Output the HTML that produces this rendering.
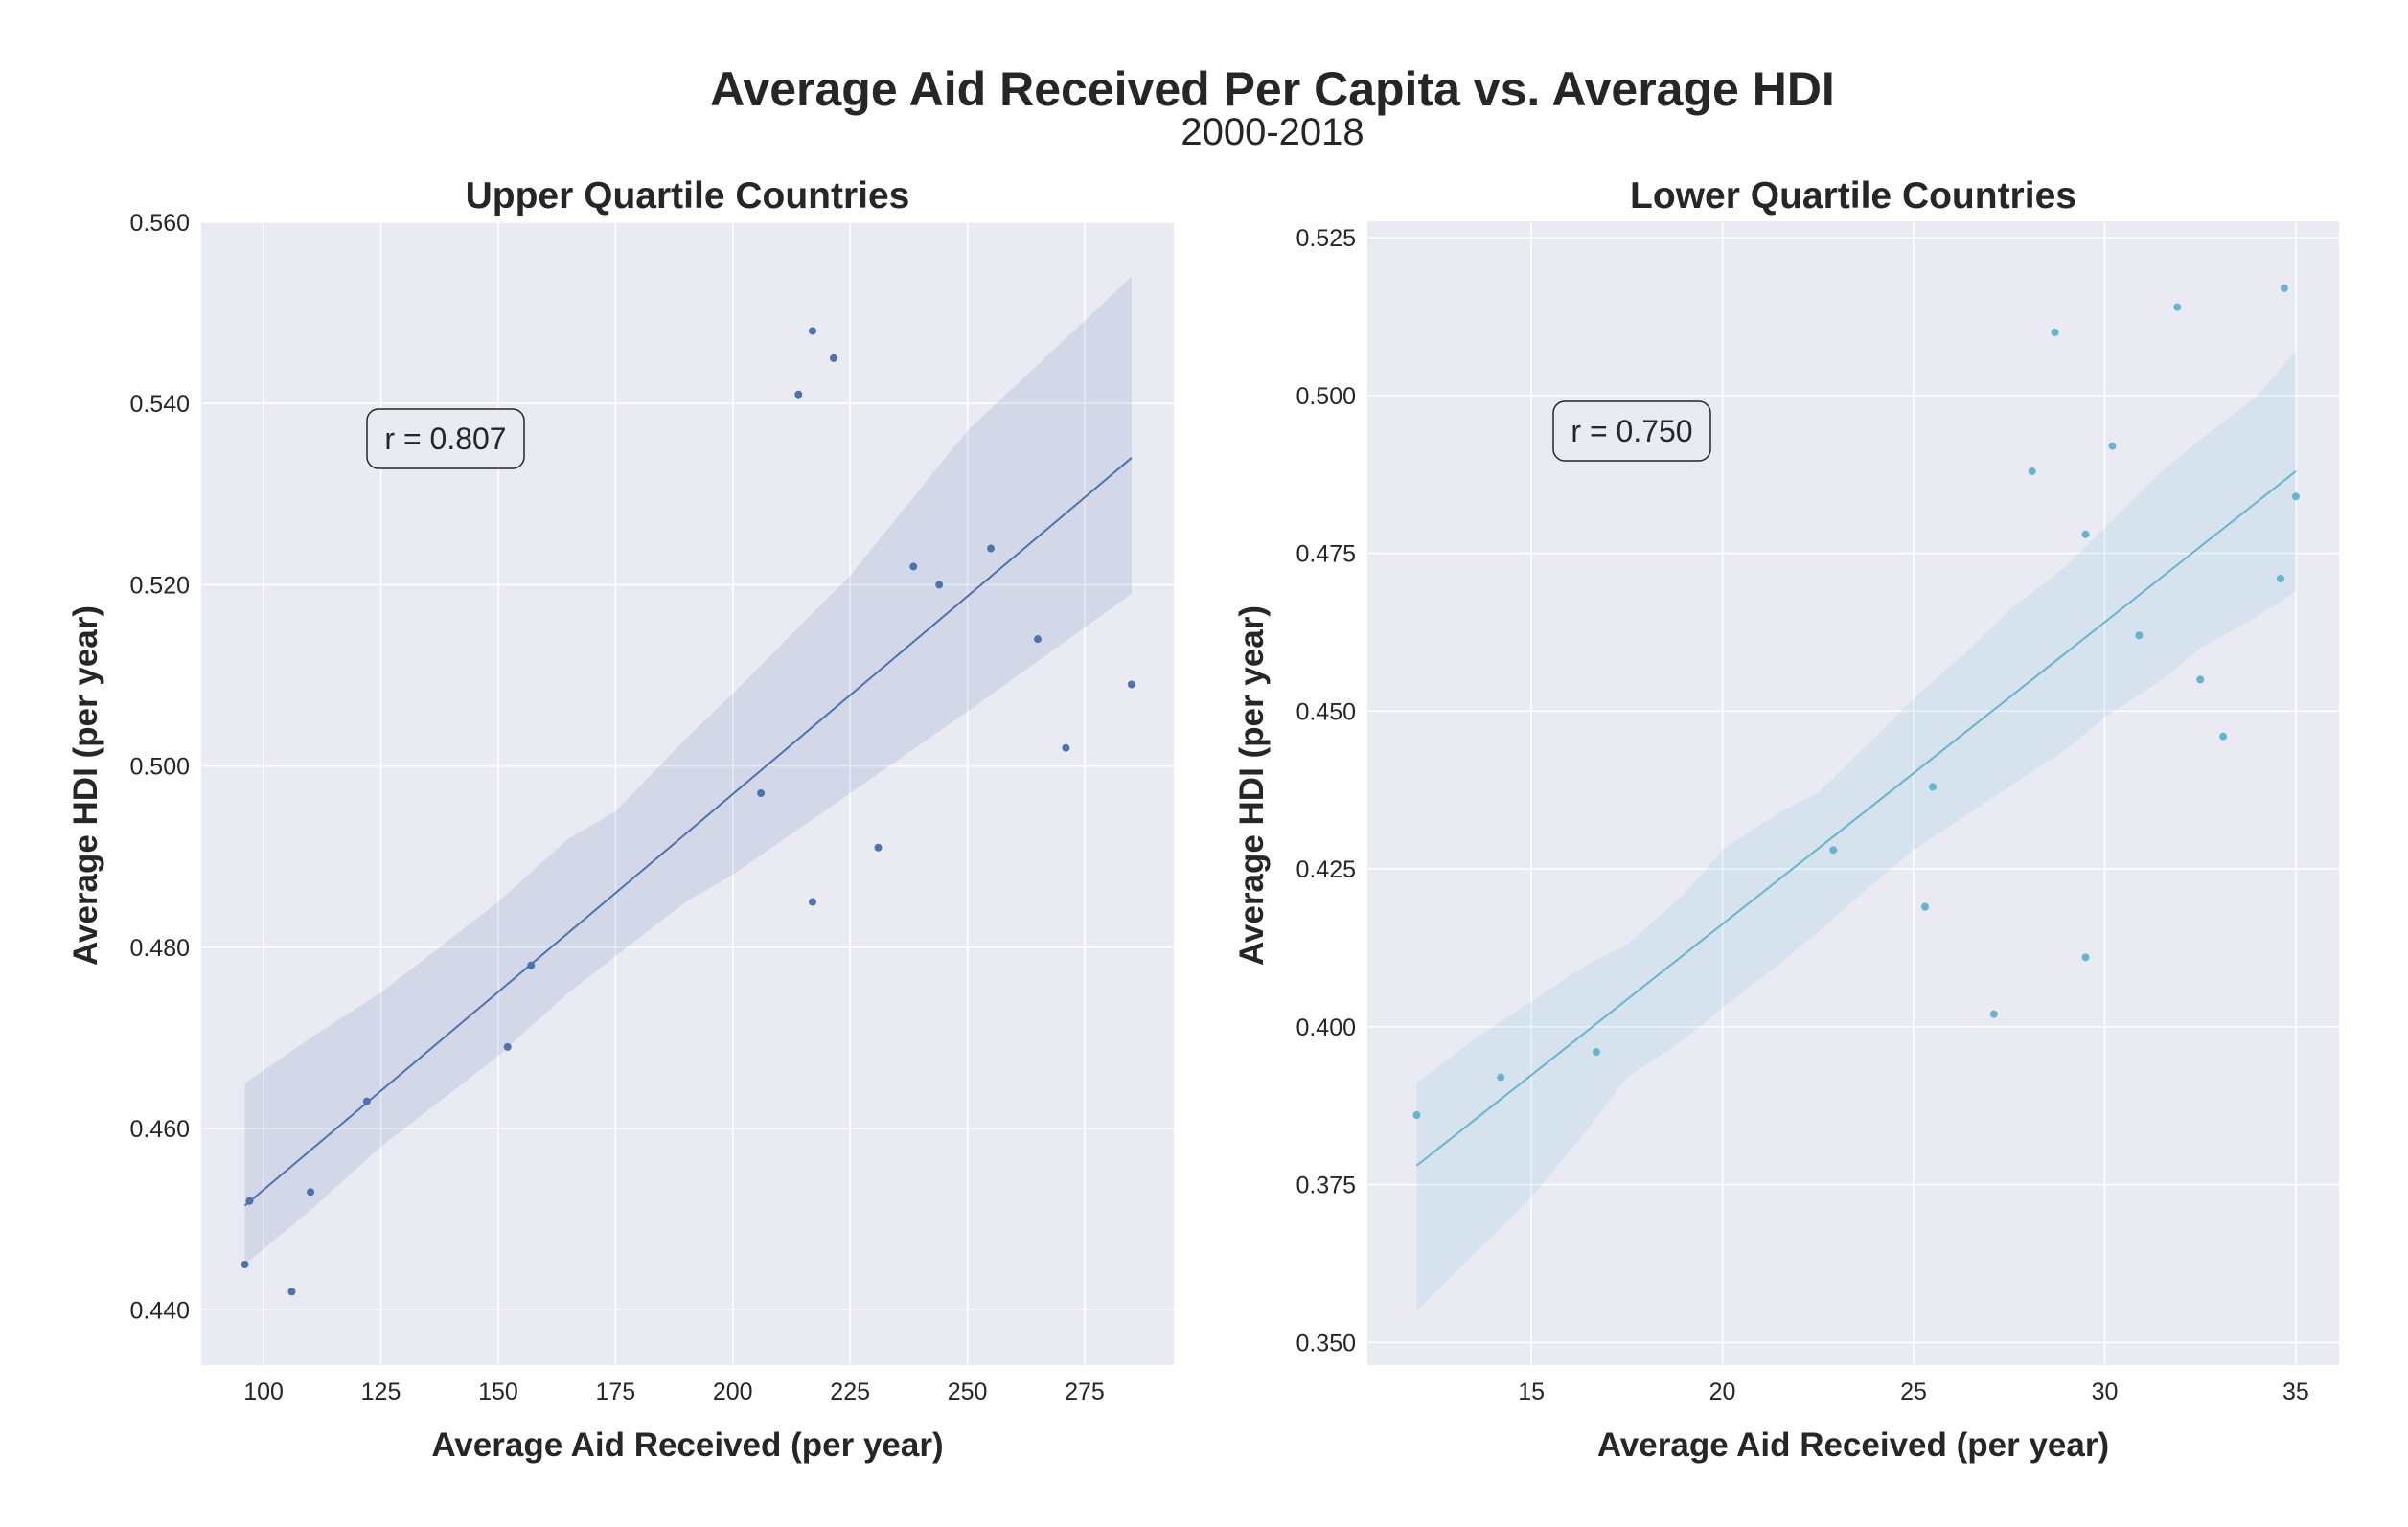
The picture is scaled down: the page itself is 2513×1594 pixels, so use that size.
<!DOCTYPE html>
<html><head><meta charset="utf-8"><style>
body{margin:0;background:#fff;}
svg{display:block;font-family:"Liberation Sans",Arial,sans-serif;}
</style></head><body>
<svg id="fig" width="2513" height="1594" viewBox="0 0 2513 1594">
<text x="1328" y="110" text-anchor="middle" font-size="50" font-weight="bold" fill="#262626">Average Aid Received Per Capita vs. Average HDI</text>
<text x="1328" y="151" text-anchor="middle" font-size="40" fill="#262626">2000-2018</text>
</svg>
<script>
// Upper quartile data
const upperX=[96,97,106,110,122,152,157,206,214,217,217,221.5,231,238.5,244,255,265,271,285];
const upperY=[0.445,0.452,0.442,0.453,0.463,0.469,0.478,0.497,0.541,0.548,0.485,0.545,0.491,0.522,0.520,0.524,0.514,0.502,0.509];
const upperLineX=[96,285];
const upperLineY=[0.4515,0.534];
const upperBandX=[96,110,125,150,165,175,190,200,225,250,285];
const upperBandHi=[0.465,0.470,0.475,0.485,0.492,0.495,0.503,0.508,0.521,0.537,0.554];
const upperBandLo=[0.445,0.451,0.458,0.468,0.475,0.479,0.485,0.488,0.497,0.506,0.519];
const upperXTicks=[100,125,150,175,200,225,250,275];
const upperYTicks=[0.44,0.46,0.48,0.50,0.52,0.54,0.56];
// Lower quartile data
const lowerX=[12,14.2,16.7,22.9,25.3,25.5,27.1,28.1,28.7,29.5,29.5,30.2,30.9,31.9,32.5,33.1,34.6,34.7,35];
const lowerY=[0.386,0.392,0.396,0.428,0.419,0.438,0.402,0.488,0.510,0.478,0.411,0.492,0.462,0.514,0.455,0.446,0.471,0.517,0.484];
const lowerLineX=[12,35];
const lowerLineY=[0.378,0.488];
const lowerBandX=[12,13.5,15,16.5,17.5,19,20,21.5,22.5,24,25,26.5,27.5,29,30,31.5,32.5,34,35];
const lowerBandHi=[0.391,0.398,0.404,0.410,0.413,0.421,0.428,0.434,0.437,0.446,0.452,0.460,0.466,0.473,0.479,0.488,0.493,0.500,0.507];
const lowerBandLo=[0.355,0.364,0.373,0.384,0.392,0.398,0.403,0.410,0.415,0.423,0.428,0.434,0.438,0.444,0.449,0.455,0.460,0.465,0.469];
const lowerXTicks=[15,20,25,30,35];
const lowerYTicks=[0.350,0.375,0.400,0.425,0.450,0.475,0.500,0.525];

const NS="http://www.w3.org/2000/svg";
const svg=document.getElementById('fig');
function mk(tag,attrs,parent){const e=document.createElementNS(NS,tag);for(const k in attrs)e.setAttribute(k,attrs[k]);(parent||svg).appendChild(e);return e;}

function panel(o){
  const g=mk('g',{});
  
  
  const sx=v=>o.x0+(v-o.xmin)/(o.xmax-o.xmin)*(o.x1-o.x0);
  const sy=v=>o.y1-(v-o.ymin)/(o.ymax-o.ymin)*(o.y1-o.y0);
  const bg=mk('rect',{x:o.x0,y:o.y0,width:o.x1-o.x0,height:o.y1-o.y0,fill:'#eaeaf2'},g);
  
  
  o.xt.forEach(t=>{
    const l=mk('line',{x1:sx(t),x2:sx(t),y1:o.y0,y2:o.y1,stroke:'#fff','stroke-width':1.6},g);
    
    
    const tx=mk('text',{x:sx(t),y:o.y1+36,'text-anchor':'middle','font-size':25,fill:'#262626'},g);
    tx.textContent=t;
    
    
  });
  o.yt.forEach(t=>{
    const l=mk('line',{x1:o.x0,x2:o.x1,y1:sy(t),y2:sy(t),stroke:'#fff','stroke-width':1.6},g);
    
    
    const tx=mk('text',{x:o.x0-12,y:sy(t)+9,'text-anchor':'end','font-size':25,fill:'#262626'},g);
    tx.textContent=t.toFixed(3);
    
    
  });
  let d='';
  o.bx.forEach((v,i)=>{d+=(i?'L':'M')+sx(v)+','+sy(o.bh[i]);});
  for(let i=o.bx.length-1;i>=0;i--)d+='L'+sx(o.bx[i])+','+sy(o.bl[i]);
  const band=mk('path',{d:d+'Z',fill:o.color,'fill-opacity':0.15},g);
  
  
  const ln=mk('line',{x1:sx(o.lx[0]),y1:sy(o.ly[0]),x2:sx(o.lx[1]),y2:sy(o.ly[1]),stroke:o.color,'stroke-width':2},g);
  
  
  o.px.forEach((v,i)=>{
    const c=mk('circle',{cx:sx(v),cy:sy(o.py[i]),r:4,fill:o.color},g);
    
    
  });
  const tt=mk('text',{x:(o.x0+o.x1)/2,y:o.y0-14,'text-anchor':'middle','font-size':39,'font-weight':'bold',fill:'#262626'},g);
  tt.textContent=o.title;
  
  
  const xl=mk('text',{x:(o.x0+o.x1)/2,y:1520,'text-anchor':'middle','font-size':35,'font-weight':'bold',fill:'#262626'},g);
  xl.textContent='Average Aid Received (per year)';
  
  
  const yl=mk('text',{x:0,y:0,'text-anchor':'middle','font-size':35,'font-weight':'bold',fill:'#262626',transform:`translate(${o.ylx},${(o.y0+o.y1)/2-8}) rotate(-90)`},g);
  yl.textContent='Average HDI (per year)';
  
  
  const box=mk('rect',{x:o.rx-82,y:o.ry-31,width:164,height:62,rx:12,fill:'#eaeaf2',stroke:'#262626','stroke-width':1.5},g);
  
  
  const rt=mk('text',{x:o.rx,y:o.ry+11,'text-anchor':'middle','font-size':32,fill:'#262626'},g);
  rt.textContent=o.r;
  
  
}
panel({name:'upper-quartile-panel',x0:210,x1:1225,y0:231,y1:1425,xmin:86.7,xmax:294,ymin:0.4339,ymax:0.5601,
  xt:upperXTicks,yt:upperYTicks,px:upperX,py:upperY,lx:upperLineX,ly:upperLineY,bx:upperBandX,bh:upperBandHi,bl:upperBandLo,
  color:'#4c72b0',title:'Upper Quartile Countries',ylx:101,rx:465,ry:458,r:'r = 0.807'});
panel({name:'lower-quartile-panel',x0:1427,x1:2441,y0:231,y1:1425,xmin:10.71,xmax:36.13,ymin:0.3464,ymax:0.5276,
  xt:lowerXTicks,yt:lowerYTicks,px:lowerX,py:lowerY,lx:lowerLineX,ly:lowerLineY,bx:lowerBandX,bh:lowerBandHi,bl:lowerBandLo,
  color:'#64b5cd',title:'Lower Quartile Countries',ylx:1318,rx:1703,ry:450,r:'r = 0.750'});
</script>
</body></html>
